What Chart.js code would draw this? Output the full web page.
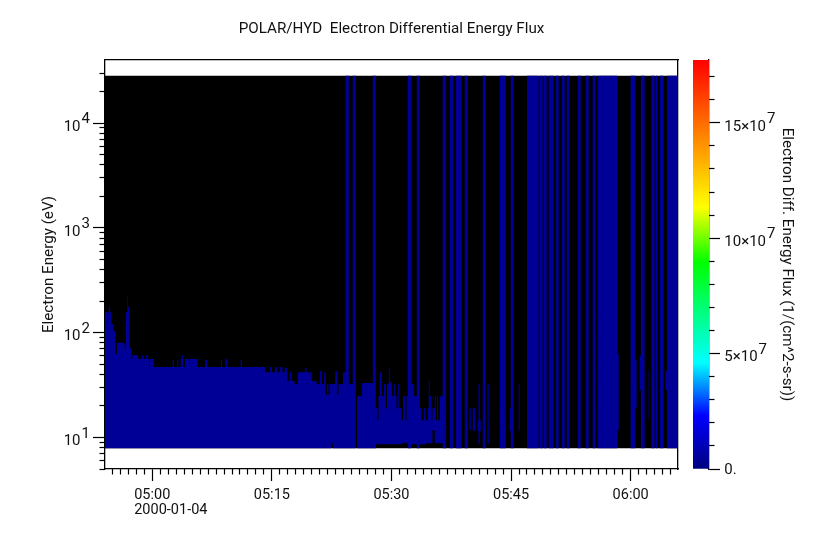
<!DOCTYPE html>
<html><head><meta charset="utf-8">
<style>html,body{margin:0;padding:0;background:#fff}canvas{position:absolute;left:0;top:0}</style>
<script src="https://cdn.jsdelivr.net/npm/chart.js@4"></script>
</head><body>
<canvas id="main" width="828" height="544"></canvas>
<canvas id="bar" width="828" height="544"></canvas>
<script>
// time in minutes since 00:00 on 2000-01-04; energy in eV; each row holds until the next start
const titleText = 'POLAR/HYD  Electron Differential Energy Flux';
const dateLabel = '2000-01-04';
const timeRange = [294.07, 365.94];
const energyRange = [5, 40000];
const fieldTimes = [294.07, 365.94];
const fieldTop = [28300, 28300];
const fieldBottom = [7.9, 7.9];
const columnStart = [
294.07,294.32,294.45,294.53,294.70,294.86,295.11,295.39,295.57,296.36,
296.54,296.70,296.87,296.95,297.12,297.20,297.37,297.49,298.24,298.67,
298.87,299.21,299.37,299.62,299.71,300.21,302.56,302.72,303.13,303.26,
303.56,303.72,303.85,304.10,304.64,304.72,305.69,306.61,306.89,308.61,
308.73,309.20,309.40,311.08,311.24,314.13,314.75,315.00,315.38,315.63,
316.01,316.34,316.63,316.92,317.26,317.42,317.85,318.26,319.14,319.35,
319.98,320.61,321.02,321.27,321.56,321.77,321.93,322.11,322.25,322.48,
322.65,322.94,323.19,323.36,323.94,324.24,324.65,325.15,325.53,325.69,
326.28,327.66,328.04,328.20,328.37,328.54,328.79,329.04,329.29,329.45,
329.67,329.79,330.04,330.29,330.42,330.63,330.79,330.92,331.30,331.46,
331.71,331.89,332.05,332.46,332.84,333.18,333.55,333.72,334.05,334.22,
334.55,334.68,334.80,335.02,335.14,335.43,335.56,335.72,335.85,336.06,
336.43,336.85,337.31,337.73,338.06,338.82,339.19,339.57,339.78,339.94,
340.20,340.48,340.82,340.91,341.07,341.20,341.45,341.82,342.04,342.20,
343.58,344.33,344.83,344.96,345.33,345.96,346.09,347.00,348.47,348.63,
348.97,349.10,349.47,349.72,350.35,350.60,350.97,351.35,351.73,351.98,
352.35,353.36,353.73,354.36,354.74,355.24,355.61,355.86,358.33,358.50,
360.00,360.59,360.75,361.13,361.29,361.75,362.25,362.34,362.59,363.01,
363.17,363.38,363.67,364.14,364.35,364.55,365.94];
const columnTop = [
157,121,157,176,157,121,104,62.5,80,79,
71,157,224,176,80,71,56,61,56,61,
56,61,56,47,56,47,55,47,55,47,
56,61,47,56,47,56,47,55,47,55,
47,56,47,55,47,42,47,42,47,42,
47,42,46,34.5,42,34.5,32.3,42,46,42,
34.5,32.3,43,32.3,42,25.4,32.3,25.4,32.3,32.3,
32.3,43,25.4,32.3,42,28300,32.3,28300,7.9,24.8,
33,28300,19,14.6,24.8,42,24.8,32.3,19,32.3,
46,33.7,24.8,32.3,24.8,19,32.3,19,14.6,24.8,
14.6,24.8,28300,32.3,24.8,28300,19,14.6,19,14.6,
19,34.5,24.8,14.6,19,24.8,14.6,24.8,14.6,24.8,
28300,7.9,28300,7.9,28300,7.9,28300,7.9,19,7.9,
19,7.9,14.6,32.3,14.6,7.9,28300,7.9,32.3,7.9,
28300,7.9,19,28300,7.9,32.3,7.9,28300,7.9,28300,
7.9,28300,7.9,28300,7.9,28300,7.9,28300,7.9,28300,
7.9,28300,7.9,28300,7.9,28300,7.9,28300,62.5,7.9,
28300,55,7.9,61,28300,7.9,43,7.9,28300,7.9,
28300,7.9,28300,7.9,43,28300,28300];
const columnBottom = [
7.9,7.9,7.9,7.9,7.9,7.9,7.9,7.9,7.9,7.9,
7.9,7.9,7.9,7.9,7.9,7.9,7.9,7.9,7.9,7.9,
7.9,7.9,7.9,7.9,7.9,7.9,7.9,7.9,7.9,7.9,
7.9,7.9,7.9,7.9,7.9,7.9,7.9,7.9,7.9,7.9,
7.9,7.9,7.9,7.9,7.9,7.9,7.9,7.9,7.9,7.9,
7.9,7.9,7.9,7.9,7.9,7.9,7.9,7.9,7.9,7.9,
7.9,7.9,7.9,7.9,7.9,7.9,7.9,7.9,7.9,8.8,
7.9,7.9,7.9,7.9,7.9,7.9,7.9,7.9,7.9,7.9,
7.9,7.9,8.6,8.6,8.6,8.6,8.6,8.6,8.6,8.6,
8.6,8.6,8.6,8.6,8.6,8.6,8.6,8.6,8.8,8.8,
8.8,8.8,7.9,8.6,8.6,7.9,8.6,8.6,8.6,8.8,
8.8,8.8,8.8,8.8,11.7,8.8,8.8,8.8,8.8,8.8,
7.9,7.9,7.9,7.9,7.9,7.9,7.9,7.9,11.7,7.9,
11.5,7.9,11.5,8.6,11.5,7.9,7.9,7.9,8.6,7.9,
7.9,7.9,11.5,7.9,7.9,11.5,7.9,7.9,7.9,7.9,
7.9,7.9,7.9,7.9,7.9,7.9,7.9,7.9,7.9,7.9,
7.9,7.9,7.9,7.9,7.9,7.9,7.9,7.9,11.7,7.9,
7.9,19,7.9,28.3,7.9,7.9,15,7.9,7.9,7.9,
7.9,7.9,7.9,7.9,28.3,7.9,7.9];
const timeMajorTicks = [300,315,330,345,360];
const timeMinorTicks = [295,296,297,298,299,301,302,303,304,305,306,307,308,309,310,311,312,313,314,316,317,318,319,320,321,322,323,324,325,326,327,328,329,331,332,333,334,335,336,337,338,339,340,341,342,343,344,346,347,348,349,350,351,352,353,354,355,356,357,358,359,361,362,363,364,365];
const energyMajorTicks = [10,100,1000,10000];
const energyExponents = ['1','2','3','4'];
const energyMinorTicks = [5,6,7,8,9,20,30,40,50,60,70,80,90,200,300,400,500,600,700,800,900,2000,3000,4000,5000,6000,7000,8000,9000,20000,30000];
const fluxRange = [0, 177200000];
const fluxMajorTicks = [0,50000000,100000000,150000000];
const fluxMajorBases = ['0.','5×10','10×10','15×10'];
const fluxExponents = ['','7','7','7'];
const fluxMinorTicks = [10000000,20000000,30000000,40000000,60000000,70000000,80000000,90000000,110000000,120000000,130000000,140000000,160000000,170000000];
const colorStops = [[0,'#00007f'],[0.13,'#0000ff'],[0.26,'#00ffff'],[0.505,'#00ff00'],[0.64,'#ffff00'],[1,'#ff0000']];

const FONT = 'Roboto';
const INK = '#111';
const zip = (xs, ys) => xs.map((x, i) => ({x, y: ys[i]}));
const setTicks = vals => scale => { scale.ticks = vals.map(v => ({value: v})); };
const zeroH = s => { s.height = 0; };
const zeroW = s => { s.width = 0; };
const plain = {borderWidth: 0, pointRadius: 0, stepped: 'before', tension: 0};
const hhmm = v => { const h = Math.floor(v / 60), m = Math.round(v - h * 60); return String(h).padStart(2, '0') + ':' + String(m).padStart(2, '0'); };
const tickOpts = len => ({display: true, drawOnChartArea: false, drawTicks: true, tickLength: len, tickColor: '#000', tickWidth: 1.2});
const noTicks = {display: true, drawOnChartArea: false, drawTicks: false};
const edge = {display: true, color: '#000', width: 1.3};

const energyLabels = {
  id: 'energyLabels',
  afterDraw(chart) {
    const c = chart.ctx, y = chart.scales.y, x = chart.scales.x;
    c.save();
    c.fillStyle = INK;
    c.font = '15px ' + FONT;
    c.textBaseline = 'middle';
    energyMajorTicks.forEach((v, i) => {
      const p = y.getPixelForValue(v);
      c.textAlign = 'right';
      c.fillText('10', 80.5, p + 4);
      c.textAlign = 'left';
      c.fillText(energyExponents[i], 81.5, p - 3.5);
    });
    c.textAlign = 'left';
    c.font = '14.5px ' + FONT;
    const mid = c.measureText('05:00').width / 2;
    c.fillText(dateLabel, x.getPixelForValue(300) - mid, 510);
    c.restore();
  }
};
new Chart(document.getElementById('main'), {
  type: 'line',
  data: {datasets: [
    {...plain, label: 'flux top', data: zip(columnStart, columnTop), backgroundColor: 'rgb(0,0,150)', fill: '+1', xAxisID: 'x', yAxisID: 'y'},
    {...plain, label: 'flux bottom', data: zip(columnStart, columnBottom), fill: false, xAxisID: 'x', yAxisID: 'y'},
    {...plain, label: 'no flux', data: zip(fieldTimes, fieldTop), backgroundColor: '#000', fill: '+1', xAxisID: 'x', yAxisID: 'y'},
    {...plain, label: 'no flux bottom', data: zip(fieldTimes, fieldBottom), fill: false, xAxisID: 'x', yAxisID: 'y'}
  ]},
  plugins: [energyLabels],
  options: {
    responsive: false, animation: false, parsing: false, normalized: true,
    layout: {padding: {left: 0, right: 150, top: 0, bottom: 0}},
    plugins: {
      legend: {display: false}, tooltip: {enabled: false},
      title: {display: true, text: titleText, fullSize: false, color: INK, font: {family: FONT, size: 15.2, weight: 'normal', lineHeight: 1.2}, padding: {top: 20, bottom: 21.76}}
    },
    scales: {
      x: {type: 'linear', position: 'bottom', weight: 1, min: timeRange[0], max: timeRange[1], afterBuildTicks: setTicks(timeMajorTicks),
        afterFit(s) { s.height = 75; },
        grid: tickOpts(12), border: edge,
        ticks: {autoSkip: false, maxRotation: 0, padding: 6, color: INK, font: {family: FONT, size: 14.5}, callback: v => hhmm(v)}},
      xMinor: {type: 'linear', position: 'bottom', weight: 0, min: timeRange[0], max: timeRange[1], afterBuildTicks: setTicks(timeMinorTicks), afterFit: zeroH,
        grid: tickOpts(5.5), border: {display: false}, ticks: {display: false, autoSkip: false}},
      xTop: {type: 'linear', position: 'top', min: 0, max: 1, afterFit: zeroH, grid: noTicks, border: edge, ticks: {display: false}},
      y: {type: 'logarithmic', position: 'left', weight: 1, min: energyRange[0], max: energyRange[1], afterBuildTicks: setTicks(energyMajorTicks),
        afterFit(s) { s.width = 105; },
        grid: tickOpts(12), border: edge, ticks: {display: false, autoSkip: false},
        title: {display: true, text: 'Electron Energy (eV)', color: INK, font: {family: FONT, size: 15.2}, padding: {top: 39.9, bottom: 0}}},
      yMinor: {type: 'logarithmic', position: 'left', weight: 0, min: energyRange[0], max: energyRange[1], afterBuildTicks: setTicks(energyMinorTicks), afterFit: zeroW,
        grid: tickOpts(5.5), border: {display: false}, ticks: {display: false, autoSkip: false}},
      yRight: {type: 'linear', position: 'right', min: 0, max: 1, afterFit: zeroW, grid: noTicks, border: edge, ticks: {display: false}}
    }
  }
});

const fluxLabels = {
  id: 'fluxLabels',
  afterDraw(chart) {
    const c = chart.ctx, y = chart.scales.y;
    c.save();
    c.fillStyle = INK;
    c.font = '15px ' + FONT;
    c.textBaseline = 'middle';
    c.textAlign = 'left';
    fluxMajorTicks.forEach((v, i) => {
      const p = y.getPixelForValue(v);
      const w = c.measureText(fluxMajorBases[i]).width;
      c.fillText(fluxMajorBases[i], 724.3, p + (v === 0 ? 1.5 : 4));
      if (fluxExponents[i]) c.fillText(fluxExponents[i], 724.3 + w + 1, p - 3.5);
    });
    c.restore();
  }
};
new Chart(document.getElementById('bar'), {
  type: 'bar',
  data: {labels: ['flux'], datasets: [{
    data: [fluxRange],
    barPercentage: 1, categoryPercentage: 1, borderWidth: 0,
    backgroundColor(ctx) {
      const a = ctx.chart.chartArea;
      if (!a) return '#00f';
      const g = ctx.chart.ctx.createLinearGradient(0, a.bottom, 0, a.top);
      colorStops.forEach(s => g.addColorStop(s[0], s[1]));
      return g;
    }
  }]},
  plugins: [fluxLabels],
  options: {
    responsive: false, animation: false,
    layout: {padding: {left: 693, right: 0, top: 60, bottom: 75}},
    plugins: {legend: {display: false}, tooltip: {enabled: false}},
    scales: {
      x: {type: 'category', display: false},
      y: {type: 'linear', position: 'right', weight: 1, min: fluxRange[0], max: fluxRange[1], afterBuildTicks: setTicks(fluxMajorTicks),
        afterFit(s) { s.width = 119; },
        grid: tickOpts(11), border: edge, ticks: {display: false, autoSkip: false},
        title: {display: true, text: 'Electron Diff. Energy Flux (1/(cm^2-s-sr))', color: INK, font: {family: FONT, size: 15.2}, padding: {top: 31.6, bottom: 0}}},
      yMinor: {type: 'linear', position: 'right', weight: 0, min: fluxRange[0], max: fluxRange[1], afterBuildTicks: setTicks(fluxMinorTicks), afterFit: zeroW,
        grid: tickOpts(5.5), border: {display: false}, ticks: {display: false, autoSkip: false}}
    }
  }
});
</script>
</body></html>
